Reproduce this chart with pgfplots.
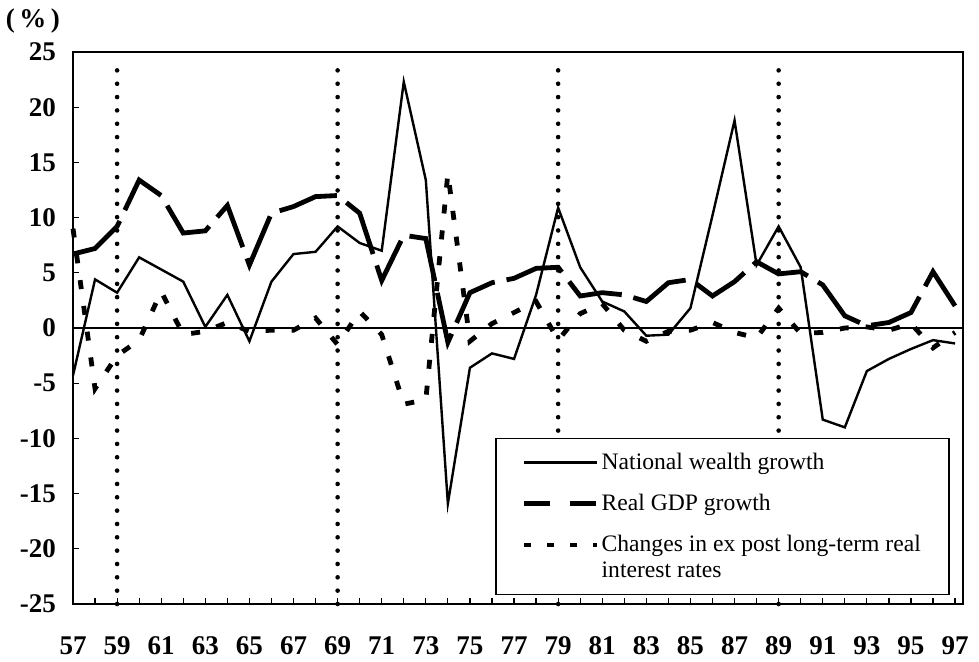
\documentclass[border=0pt]{standalone}
\usepackage{fontspec}
\setmainfont{Liberation Serif}
\usepackage{pgfplots}
\pgfplotsset{compat=1.18}
\usepackage{pgfplotstable}

\pgfplotsset{
  flatlegend/.style={legend image code/.code={\draw[##1] (0pt,0pt) -- (36.5pt,0pt);}},
  raisedlegend/.style={legend image code/.code={\draw[##1] (0pt,6.4pt) -- (36.5pt,6.4pt);}},
}

\pgfplotstableread{
year nw gdp ir
57 -4.3 6.7 9.0
58 4.4 7.2 -5.5
59 3.2 9.2 -2.5
60 6.4 13.4 -1.1
61 5.3 12.0 3.3
62 4.2 8.6 -0.6
63 0.1 8.8 -0.3
64 3.0 11.1 0.5
65 -1.2 5.7 -0.3
66 4.2 10.4 -0.2
67 6.7 11.0 -0.2
68 6.9 11.9 0.9
69 9.2 12.0 -1.5
70 7.7 10.4 1.5
71 7.0 4.3 -0.6
72 22.3 8.4 -6.9
73 13.4 8.1 -6.5
74 -15.9 -1.3 14.0
75 -3.6 3.2 -1.2
76 -2.3 4.1 0.4
77 -2.8 4.5 1.4
78 3.0 5.4 2.4
79 10.9 5.5 -1.1
80 5.5 2.9 1.3
81 2.4 3.2 2.2
82 1.5 3.0 -0.2
83 -0.7 2.4 -1.2
84 -0.6 4.1 -0.3
85 1.8 4.4 -0.2
86 10.2 2.9 0.5
87 18.8 4.2 -0.4
88 5.7 6.0 -0.9
89 9.2 4.9 1.8
90 5.5 5.1 -0.5
91 -8.3 3.9 -0.4
92 -9.0 1.1 0.0
93 -3.9 0.2 0.1
94 -2.8 0.5 -0.2
95 -1.9 1.4 0.4
96 -1.1 5.1 -1.8
97 -1.4 2.0 -0.4
}\datatable

\begin{document}
\begin{tikzpicture}
\begin{axis}[
  scale only axis, width=445pt, height=276pt,
  xmin=57, xmax=97.36, ymin=-25, ymax=25,
  clip=false,
  xtick={57,59,...,97}, minor xtick={58,60,...,96},
  xticklabels={57,59,61,63,65,67,69,71,73,75,77,79,81,83,85,87,89,91,93,95,97},
  ytick={-25,-20,...,25},
  yticklabels={-25,-20,-15,-10,-5,0,5,10,15,20,25},
  tick align=inside, xtick pos=bottom, ytick pos=left,
  major tick length=3pt, minor tick length=3pt,
  tick style={black, line width=0.6pt},
  axis line style={line width=0.9pt},
  ticklabel style={font=\fontsize{13.5}{16}\selectfont\bfseries},
  xticklabel style={anchor=base, yshift=-25.5pt},
  yticklabel style={xshift=-5pt},
  legend cell align=left,
  flatlegend,
  legend style={at={(rel axis cs:0.985,0.016)}, anchor=south east,
    draw=black, line width=0.8pt, fill=white,
    font=\fontsize{11.8}{12.8}\selectfont,
    cells={align=left}, nodes={inner xsep=1pt},
    row sep=7pt,
    inner xsep=13pt, inner ysep=5pt},
]
\addplot[forget plot, black, line width=0.6pt] coordinates {(57,0) (97.36,0)};
\addplot[forget plot, black, line width=2.3pt, line cap=round, dash pattern=on 0pt off 6.67pt] coordinates {(59,-25) (59,24)};
\addplot[forget plot, black, line width=2.3pt, line cap=round, dash pattern=on 0pt off 6.67pt] coordinates {(69,-25) (69,24)};
\addplot[forget plot, black, line width=2.3pt, line cap=round, dash pattern=on 0pt off 6.67pt] coordinates {(79,-25) (79,24)};
\addplot[forget plot, black, line width=2.3pt, line cap=round, dash pattern=on 0pt off 6.67pt] coordinates {(89,-25) (89,24)};

\addplot[black, line width=1.2pt, line join=miter] table[x=year, y=nw] {\datatable};
\addlegendentry{National wealth growth}
\addplot[black, line width=2.4pt, dash pattern=on 30pt off 6pt,
  legend image post style={dash pattern=on 13pt off 10pt}] table[x=year, y=gdp] {\datatable};
\addlegendentry{Real GDP growth}
\addplot[black, line width=2.4pt, dash pattern=on 4.5pt off 8.5pt, raisedlegend,
  legend image post style={dash pattern=on 3.5pt off 8pt}] table[x=year, y=ir] {\datatable};
\addlegendentry{Changes in ex post long-term real\\interest rates}

\coordinate (bl) at (rel axis cs:0,0);
\coordinate (tr) at (rel axis cs:1,1);
\coordinate (pct) at (rel axis cs:-0.045,1.056);
\end{axis}
\node[font=\fontsize{13.5}{16}\selectfont\bfseries] at (pct) {(\,\%\,)};
\pgfresetboundingbox
\path[use as bounding box] ([shift={(-36.5pt,-29pt)}]bl) rectangle ([shift={(8pt,26pt)}]tr);
\end{tikzpicture}
\end{document}
